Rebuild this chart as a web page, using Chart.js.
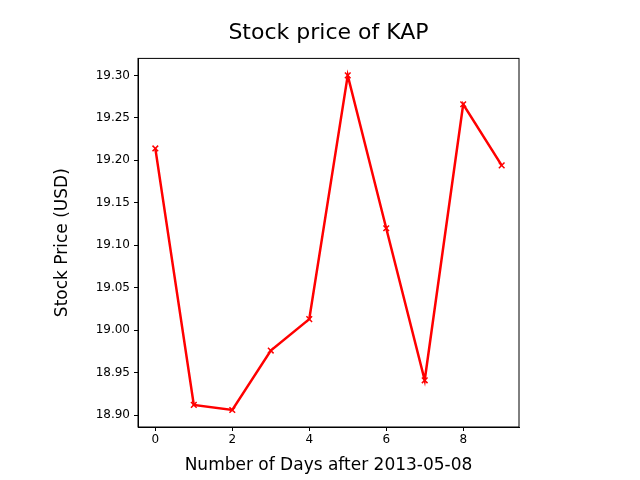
<!DOCTYPE html>
<html>
<head>
<meta charset="utf-8">
<script src="https://cdn.jsdelivr.net/npm/chart.js@4"></script>
<style>
  body { margin: 0; background: #fff; }
  #wrap { width: 640px; height: 480px; }
</style>
</head>
<body>
<div id="wrap"><canvas id="myChart" width="640" height="480"></canvas></div>
<script>
const days = [0, 1, 2, 3, 4, 5, 6, 7, 8, 9];
const prices = [19.214, 18.912, 18.906, 18.976, 19.013, 19.300, 19.120, 18.941, 19.266, 19.194];
const xTicks = [0, 2, 4, 6, 8];
const yTicks = [18.90, 18.95, 19.00, 19.05, 19.10, 19.15, 19.20, 19.25, 19.30];

const font = { family: "DejaVu Sans", size: 12 };

const ctx = document.getElementById('myChart');
new Chart(ctx, {
    type: 'line',
    data: {
        datasets: [{
            data: days.map((d, i) => ({ x: d, y: prices[i] })),
            borderColor: 'red',
            backgroundColor: 'red',
            borderWidth: 2.5,
            pointStyle: 'crossRot',
            pointRadius: 4,
            pointBorderWidth: 1.5,
            tension: 0
        }]
    },
    options: {
        responsive: false,
        animation: false,
        layout: { padding: { left: 0, right: 121, top: 0, bottom: 0 } },
        plugins: {
            legend: { display: false },
            tooltip: { enabled: false },
            title: {
                display: true,
                fullSize: false,
                text: 'Stock price of KAP',
                color: '#000',
                font: { family: "DejaVu Sans", size: 22, weight: 'normal' },
                padding: { top: 20, bottom: 12 }
            }
        },
        scales: {
            x: {
                type: 'linear',
                min: -0.45,
                max: 9.45,
                afterBuildTicks: axis => { axis.ticks = xTicks.map(v => ({ value: v })); },
                afterFit: axis => { axis.height = 53; },
                ticks: { color: '#000', font: font, padding: 2 },
                grid: { drawOnChartArea: false, color: '#000', tickLength: 4 },
                border: { color: '#000', width: 1 },
                title: {
                    display: true,
                    text: 'Number of Days after 2013-05-08',
                    color: '#000',
                    font: { family: "DejaVu Sans", size: 17 },
                    padding: { top: 4 }
                }
            },
            y: {
                min: 18.886,
                max: 19.32,
                afterBuildTicks: axis => { axis.ticks = yTicks.map(v => ({ value: v })); },
                afterFit: axis => { axis.width = 138; },
                ticks: { color: '#000', font: font, padding: 4, callback: v => v.toFixed(2) },
                grid: { drawOnChartArea: false, color: '#000', tickLength: 4 },
                border: { color: '#000', width: 1 },
                title: {
                    display: true,
                    text: 'Stock Price (USD)',
                    color: '#000',
                    font: { family: "DejaVu Sans", size: 17 },
                    padding: { top: 52, bottom: 8 }
                }
            }
        }
    },
    plugins: [{
        id: 'frame',
        afterDraw(chart) {
            const a = chart.chartArea, c = chart.ctx;
            c.save();
            c.strokeStyle = '#000';
            c.lineWidth = 1;
            c.strokeRect(a.left, a.top, a.right - a.left, a.bottom - a.top);
            c.restore();
        }
    }]
});
</script>
</body>
</html>
